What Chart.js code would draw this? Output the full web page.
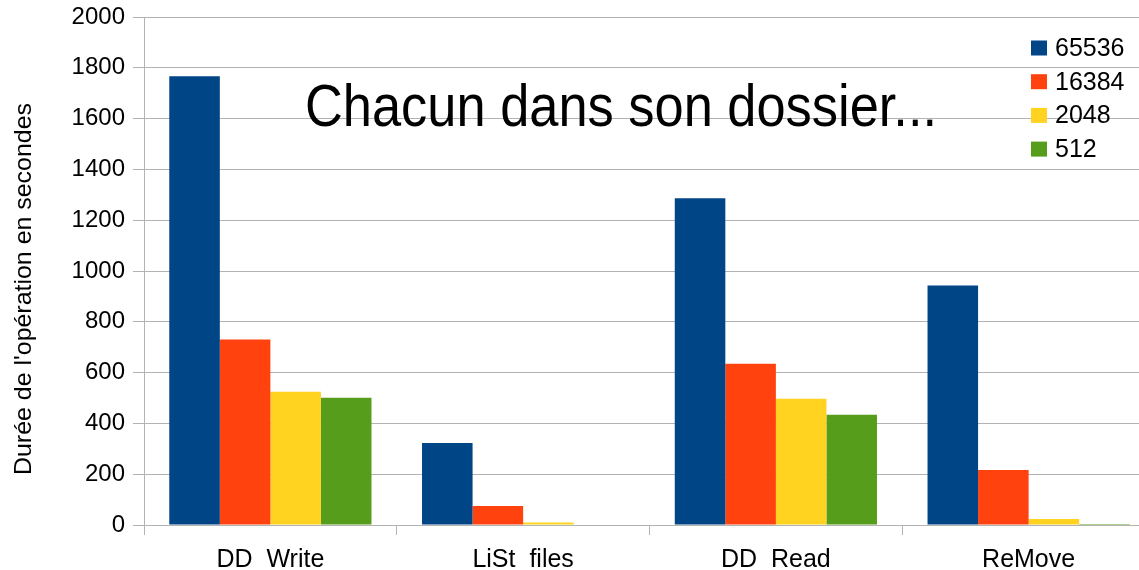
<!DOCTYPE html>
<html>
<head>
<meta charset="utf-8">
<script src="https://cdn.jsdelivr.net/npm/chart.js@4/dist/chart.umd.min.js"></script>
<style>
html,body{margin:0;padding:0;background:#fff;overflow:hidden;}
#wrap{width:1156px;height:570px;}
</style>
</head>
<body>
<div id="wrap"><canvas id="c" width="1156" height="570"></canvas></div>
<script>
const categories = ["DD  Write", "LiSt  files", "DD  Read", "ReMove"];
const seriesNames = ["65536", "16384", "2048", "512"];
const s65536 = [1767, 323, 1286, 943];
const s16384 = [730, 75, 635, 217];
const s2048 = [525, 10, 497, 24];
const s512 = [501, 2, 434, 4];
const yTicks = [0, 200, 400, 600, 800, 1000, 1200, 1400, 1600, 1800, 2000];
const titleText = "Chacun dans son dossier...";
const yTitle = "Durée de l'opération en secondes";
const colors = ["#004586", "#ff420e", "#ffd320", "#579d1c"];

const FONT = "'Liberation Sans', Arial, sans-serif";

const overlay = {
  id: 'overlay',
  afterDatasetsDraw(chart) {
    const ctx = chart.ctx;
    ctx.save();
    // title
    ctx.font = "60px 'Liberation Sans Narrow', 'Liberation Sans', sans-serif";
    ctx.fillStyle = "#000";
    ctx.textBaseline = "alphabetic";
    ctx.textAlign = "left";
    const w = ctx.measureText(titleText).width;
    ctx.translate(305, 126);
    ctx.scale(632 / w, 1);
    ctx.fillText(titleText, 0, 0);
    ctx.restore();
    // y axis title
    ctx.save();
    ctx.font = "24px " + FONT;
    ctx.fillStyle = "#000";
    ctx.textAlign = "center";
    ctx.textBaseline = "middle";
    ctx.translate(24, 289);
    ctx.rotate(-Math.PI / 2);
    const tw = ctx.measureText(yTitle).width;
    ctx.scale(372 / tw, 1);
    ctx.fillText(yTitle, 0, 0);
    ctx.restore();
    // legend
    ctx.save();
    ctx.font = "25px " + FONT;
    ctx.textBaseline = "middle";
    ctx.textAlign = "left";
    chart.data.datasets.forEach((ds, i) => {
      const cy = 48 + i * 33.7;
      ctx.fillStyle = ds.backgroundColor;
      ctx.fillRect(1031, cy - 7.5, 16, 15);
      ctx.fillStyle = "#000";
      ctx.fillText(ds.label, 1055, cy + 1);
    });
    ctx.restore();
  }
};

new Chart(document.getElementById('c'), {
  type: 'bar',
  data: {
    labels: categories,
    datasets: [s65536, s16384, s2048, s512].map((d, i) => ({
      label: seriesNames[i],
      data: d,
      backgroundColor: colors[i],
      borderWidth: 0,
      barPercentage: 1,
      categoryPercentage: 0.8
    }))
  },
  options: {
    responsive: false,
    animation: false,
    devicePixelRatio: 1,
    layout: { padding: { left: 0, right: 1, top: 17, bottom: 0 } },
    plugins: {
      legend: { display: false },
      tooltip: { enabled: false },
      title: { display: false }
    },
    scales: {
      x: {
        offset: true,
        grid: { display: true, drawOnChartArea: false, drawTicks: true, tickLength: 10, color: "#b3b3b3", offset: true },
        border: { display: true, color: "#b3b3b3" },
        ticks: { color: "#000", font: { family: FONT, size: 25 }, padding: 10, maxRotation: 0 },
        afterFit(scale) { scale.height = 45; scale.paddingLeft = 0; scale.paddingRight = 0; }
      },
      y: {
        min: 0, max: 2000,
        afterBuildTicks(scale) { scale.ticks = yTicks.map(v => ({ value: v })); },
        grid: { color: "#b3b3b3", drawTicks: true, tickLength: 11 },
        border: { display: true, color: "#b3b3b3" },
        ticks: { color: "#000", font: { family: FONT, size: 24 }, padding: 8, callback: v => String(v) },
        title: { display: false },
        afterFit(scale) { scale.width = 144; scale.paddingTop = 0; scale.paddingBottom = 0; }
      }
    }
  },
  plugins: [overlay]
});
</script>
</body>
</html>
